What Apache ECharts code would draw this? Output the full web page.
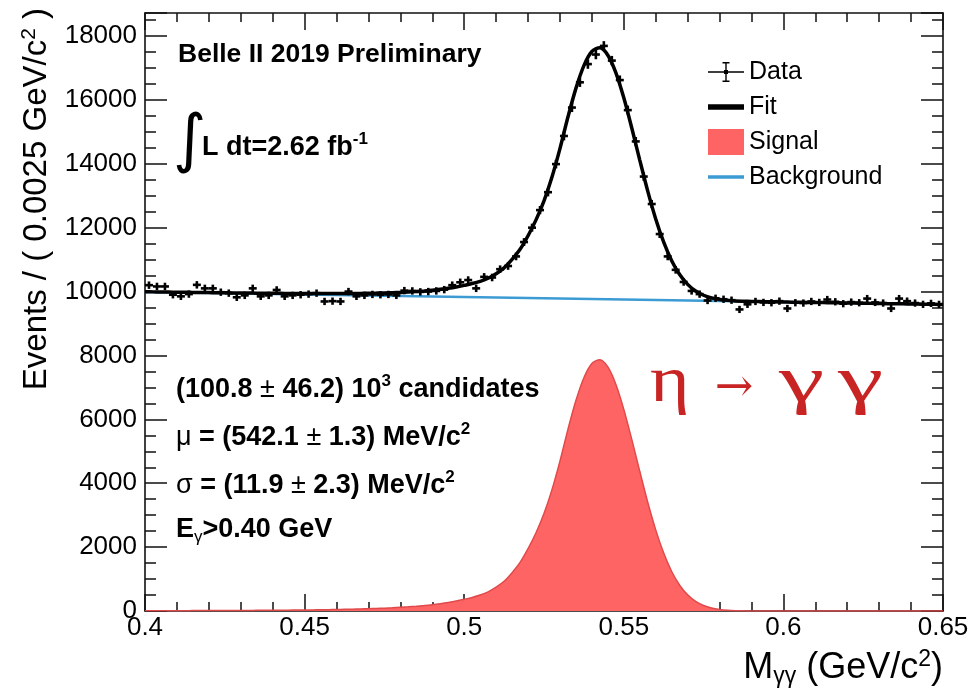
<!DOCTYPE html>
<html>
<head>
<meta charset="utf-8">
<title>eta to gamma gamma</title>
<script src="https://cdn.jsdelivr.net/npm/echarts@6/dist/echarts.min.js"></script>
<style>
  html, body { margin: 0; padding: 0; background: #fff; }
  #chart { width: 973px; height: 698px; }
</style>
</head>
<body>
<div id="chart"></div>
<script>
// histogram binning (GeV/c^2)
var xMin = 0.4, xMax = 0.65, binWidth = 0.0025;

// events per bin, 100 bins from 0.4 to 0.65
var dataCounts = [
  10200, 10160, 10160, 9900, 9850, 9920, 10210, 10100, 10100, 9980,
  9950, 9820, 9880, 10100, 9850, 9880, 10050, 9850, 9880, 9900,
  9920, 9950, 9690, 9700, 9690, 10000, 9850, 9880, 9910, 9900,
  9910, 9880, 10030, 10020, 9990, 10000, 10020, 10060, 10200, 10290,
  10360, 10100, 10460, 10440, 10700, 10800, 11100, 11550, 12000, 12550,
  13110, 13990, 14870, 15760, 16550, 17120, 17420, 17690, 17230, 16620,
  15680, 14700, 13600, 12740, 11800, 11100, 10680, 10300, 10020, 9920,
  9720, 9790, 9760, 9730, 9440, 9600, 9690, 9660, 9650, 9700,
  9470, 9650, 9640, 9690, 9660, 9750, 9680, 9620, 9670, 9650,
  9780, 9660, 9640, 9470, 9780, 9700, 9640, 9600, 9630, 9600
];

// fit curve, sampled at every bin edge (101 points)
var fitValues = [
  9993, 9990, 9986, 9983, 9979, 9977, 9974, 9970, 9967, 9964,
  9961, 9958, 9955, 9952, 9950, 9948, 9946, 9944, 9942, 9940,
  9939, 9938, 9937, 9937, 9937, 9939, 9941, 9943, 9947, 9951,
  9957, 9964, 9974, 9986, 10000, 10019, 10041, 10069, 10102, 10143,
  10194, 10250, 10321, 10417, 10560, 10740, 11006, 11322, 11748, 12244,
  12840, 13586, 14475, 15463, 16361, 17074, 17515, 17629, 17399, 16855,
  16064, 15119, 14116, 13145, 12274, 11545, 10965, 10531, 10224, 10017,
  9884, 9802, 9753, 9724, 9707, 9698, 9691, 9686, 9681, 9677,
  9673, 9669, 9665, 9661, 9657, 9654, 9650, 9646, 9642, 9638,
  9634, 9630, 9626, 9622, 9618, 9615, 9611, 9607, 9603, 9599,
  9595
];

// signal component, same sampling
var signalValues = [
  8, 9, 9, 10, 10, 11, 12, 12, 13, 14,
  15, 16, 17, 18, 20, 21, 23, 25, 27, 29,
  32, 35, 38, 42, 46, 51, 57, 63, 71, 79,
  89, 100, 114, 130, 148, 170, 196, 228, 265, 310,
  365, 425, 500, 600, 745, 930, 1200, 1520, 1950, 2450,
  3050, 3800, 4693, 5685, 6587, 7303, 7748, 7866, 7640, 7100,
  6313, 5372, 4373, 3406, 2539, 1813, 1237, 807, 504, 301,
  172, 94, 49, 24, 11, 5, 2, 1, 0, 0,
  0, 0, 0, 0, 0, 0, 0, 0, 0, 0,
  0, 0, 0, 0, 0, 0, 0, 0, 0, 0,
  0
];

// background component
var bgX = [0.4, 0.425, 0.45, 0.475, 0.5, 0.525, 0.55, 0.575, 0.6, 0.625, 0.65];
var bgValues = [9985, 9946, 9907, 9868, 9829, 9790, 9751, 9712, 9673, 9634, 9595];

var FONT = '"Liberation Sans", Arial, sans-serif';
var SERIF = '"Liberation Serif", serif';
var RED = '#ff6464';
var BLUE = '#3d9bd4';
var DARKRED = '#c92424';

var histData = dataCounts.map(function (v, i) {
  return [xMin + (i + 0.5) * binWidth, v, Math.sqrt(v)];
});
var fitData = fitValues.map(function (v, i) { return [xMin + i * binWidth, v]; });
var sigData = signalValues.map(function (v, i) { return [xMin + i * binWidth, v]; });
var bgData = bgX.map(function (x, i) { return [x, bgValues[i]]; });

// legend icons (36 x 26 box, two specks keep the box size)
var specks = 'M0,0 L0.01,0 L0,0.01 Z M36,26 L35.99,26 L36,25.99 Z ';
var iconData = 'path://' + specks +
  'M0,12.3 L36,12.3 L36,13.7 L0,13.7 Z M17.3,3 L18.7,3 L18.7,23 L17.3,23 Z ' +
  'M14.5,3 L21.5,3 L21.5,4.4 L14.5,4.4 Z M14.5,21.6 L21.5,21.6 L21.5,23 L14.5,23 Z ' +
  'M16,11 L20,11 L20,15 L16,15 Z';
var iconFit = 'path://' + specks + 'M0,10.3 L36,10.3 L36,15.7 L0,15.7 Z';
var iconSig = 'path://' + specks + 'M0,0 L36,0 L36,26 L0,26 Z';
var iconBg = 'path://' + specks + 'M0,11.2 L36,11.2 L36,14.8 L0,14.8 Z';

function frameAxis(pos, isX, showLabel) {
  var a = {
    type: 'value',
    position: pos,
    min: isX ? xMin : 0,
    max: isX ? xMax : 18720,
    interval: isX ? 0.05 : 2000,
    axisLine: { show: true, onZero: false, lineStyle: { color: '#111', width: 1.6 } },
    axisTick: { show: true, inside: true, length: isX ? 17 : 22, lineStyle: { color: '#111', width: 1.5 } },
    minorTick: { show: true, splitNumber: isX ? 5 : 4, length: isX ? 9 : 11, lineStyle: { color: '#111', width: 1.5 } },
    splitLine: { show: false },
    axisLabel: { show: showLabel }
  };
  if (showLabel) {
    a.axisLabel = isX ? {
      show: true, color: '#000', fontFamily: FONT, fontSize: 26, margin: 4,
      formatter: function (v) { return String(+v.toFixed(2)); }
    } : {
      show: true, color: '#000', fontFamily: FONT, fontSize: 26, margin: 8,
      formatter: function (v) { return String(v); }
    };
  }
  return a;
}

function boldLine(x, y, text) {
  var rich = {
    t: { fontFamily: FONT, fontWeight: 'bold', fontSize: 27, fill: '#000' },
    g: { fontFamily: FONT, fontSize: 27, fill: '#000' },
    sup: { fontFamily: FONT, fontWeight: 'bold', fontSize: 17, fill: '#000', padding: [0, 0, 17, 0] },
    sub: { fontFamily: FONT, fontSize: 17, fill: '#000', padding: [15, 0, 0, 0] }
  };
  return { type: 'text', x: x, y: y, style: { text: text, verticalAlign: 'middle', rich: rich } };
}

var chart = echarts.init(document.getElementById('chart'));

var option = {
  animation: false,
  backgroundColor: '#fff',
  grid: { left: 145, right: 30, top: 13, bottom: 87 },
  xAxis: [frameAxis('bottom', true, true), frameAxis('top', true, false)],
  yAxis: [frameAxis('left', false, true), frameAxis('right', false, false)],
  legend: {
    orient: 'vertical',
    left: 703,
    top: 54,
    itemWidth: 36,
    itemHeight: 26,
    itemGap: 9,
    textStyle: { fontFamily: FONT, fontSize: 25, color: '#000' },
    data: [
      { name: 'Data', icon: iconData, itemStyle: { color: '#000', borderWidth: 0 } },
      { name: 'Fit', icon: iconFit, itemStyle: { color: '#000', borderWidth: 0 } },
      { name: 'Signal', icon: iconSig, itemStyle: { color: RED, borderWidth: 0 } },
      { name: 'Background', icon: iconBg, itemStyle: { color: BLUE, borderWidth: 0 } }
    ]
  },
  series: [
    {
      name: 'Signal',
      type: 'line',
      data: sigData,
      symbol: 'none',
      smooth: 0.3,
      color: RED,
      lineStyle: { color: '#e04a4a', width: 1.5 },
      areaStyle: { color: RED, opacity: 1 },
      z: 2
    },
    {
      name: 'Background',
      type: 'line',
      data: bgData,
      symbol: 'none',
      color: BLUE,
      lineStyle: { color: BLUE, width: 2.5 },
      z: 3
    },
    {
      name: 'Fit',
      type: 'line',
      data: fitData,
      symbol: 'none',
      smooth: 0.3,
      color: '#000',
      lineStyle: { color: '#000', width: 3.5 },
      z: 4
    },
    {
      name: 'Data',
      type: 'custom',
      data: histData,
      color: '#000',
      z: 5,
      renderItem: function (params, api) {
        var x = api.value(0), y = api.value(1), e = api.value(2);
        var c = api.coord([x, y]);
        var l = api.coord([x - binWidth / 2, y]);
        var r = api.coord([x + binWidth / 2, y]);
        var t = api.coord([x, y + e]);
        var b = api.coord([x, y - e]);
        var st = { stroke: '#000', lineWidth: 2.6 };
        return {
          type: 'group',
          children: [
            { type: 'line', shape: { x1: l[0], y1: c[1], x2: r[0], y2: c[1] }, style: st },
            { type: 'line', shape: { x1: c[0], y1: t[1] - 0.5, x2: c[0], y2: b[1] + 0.5 }, style: st }
          ]
        };
      }
    }
  ],
  graphic: [
    {
      type: 'text', x: 37, y: 8, rotation: Math.PI / 2,
      style: {
        text: '{t|Events / ( 0.0025 GeV/c}{sup|2}{t| )}',
        align: 'right', verticalAlign: 'middle',
        rich: {
          t: { fontFamily: FONT, fontSize: 33, fill: '#000' },
          sup: { fontFamily: FONT, fontSize: 21, fill: '#000', padding: [0, 0, 16, 0] }
        }
      }
    },
    {
      type: 'text', x: 943, y: 668,
      style: {
        text: '{t|M}{sub|γγ}{t| (GeV/c}{sup|2}{t|)}',
        align: 'right', verticalAlign: 'middle',
        rich: {
          t: { fontFamily: FONT, fontSize: 36, fill: '#000' },
          sub: { fontFamily: FONT, fontSize: 23, fill: '#000', padding: [17, 0, 0, 0] },
          sup: { fontFamily: FONT, fontSize: 23, fill: '#000', padding: [0, 0, 17, 0] }
        }
      }
    },
    {
      type: 'text', x: 178, y: 55,
      style: { text: 'Belle II 2019 Preliminary', font: 'bold 26.5px ' + FONT, fill: '#000', verticalAlign: 'middle' }
    },
    {
      type: 'text', x: 173, y: 143,
      style: { text: '∫', font: '64px "DejaVu Sans", sans-serif', fill: '#000', verticalAlign: 'middle' }
    },
    boldLine(202, 148, '{t|L dt=2.62 fb}{sup|-1}'),
    boldLine(176, 390, '{t|(100.8 }{g|±}{t| 46.2) 10}{sup|3}{t| candidates}'),
    boldLine(176, 438, '{g|μ}{t| = (542.1 }{g|±}{t| 1.3) MeV/c}{sup|2}'),
    boldLine(176, 486, '{g|σ}{t| = (11.9 }{g|±}{t| 2.3) MeV/c}{sup|2}'),
    boldLine(176, 530, '{t|E}{sub|γ}{t|>0.40 GeV}'),
    {
      type: 'text', x: 650, y: 384, scaleX: 1.15,
      style: { text: 'η', font: '66px ' + SERIF, fill: DARKRED, verticalAlign: 'middle' }
    },
    {
      type: 'text', x: 734, y: 389,
      style: { text: '→', font: '46px "DejaVu Serif", serif', fill: DARKRED, align: 'center', verticalAlign: 'middle' }
    },
    {
      type: 'text', x: 779, y: 384, scaleX: 1.55,
      style: { text: 'γ', font: '66px ' + SERIF, fill: DARKRED, verticalAlign: 'middle' }
    },
    {
      type: 'text', x: 838, y: 384, scaleX: 1.55,
      style: { text: 'γ', font: '66px ' + SERIF, fill: DARKRED, verticalAlign: 'middle' }
    }
  ]
};

chart.setOption(option);
window.onresize = chart.resize;
</script>
</body>
</html>
